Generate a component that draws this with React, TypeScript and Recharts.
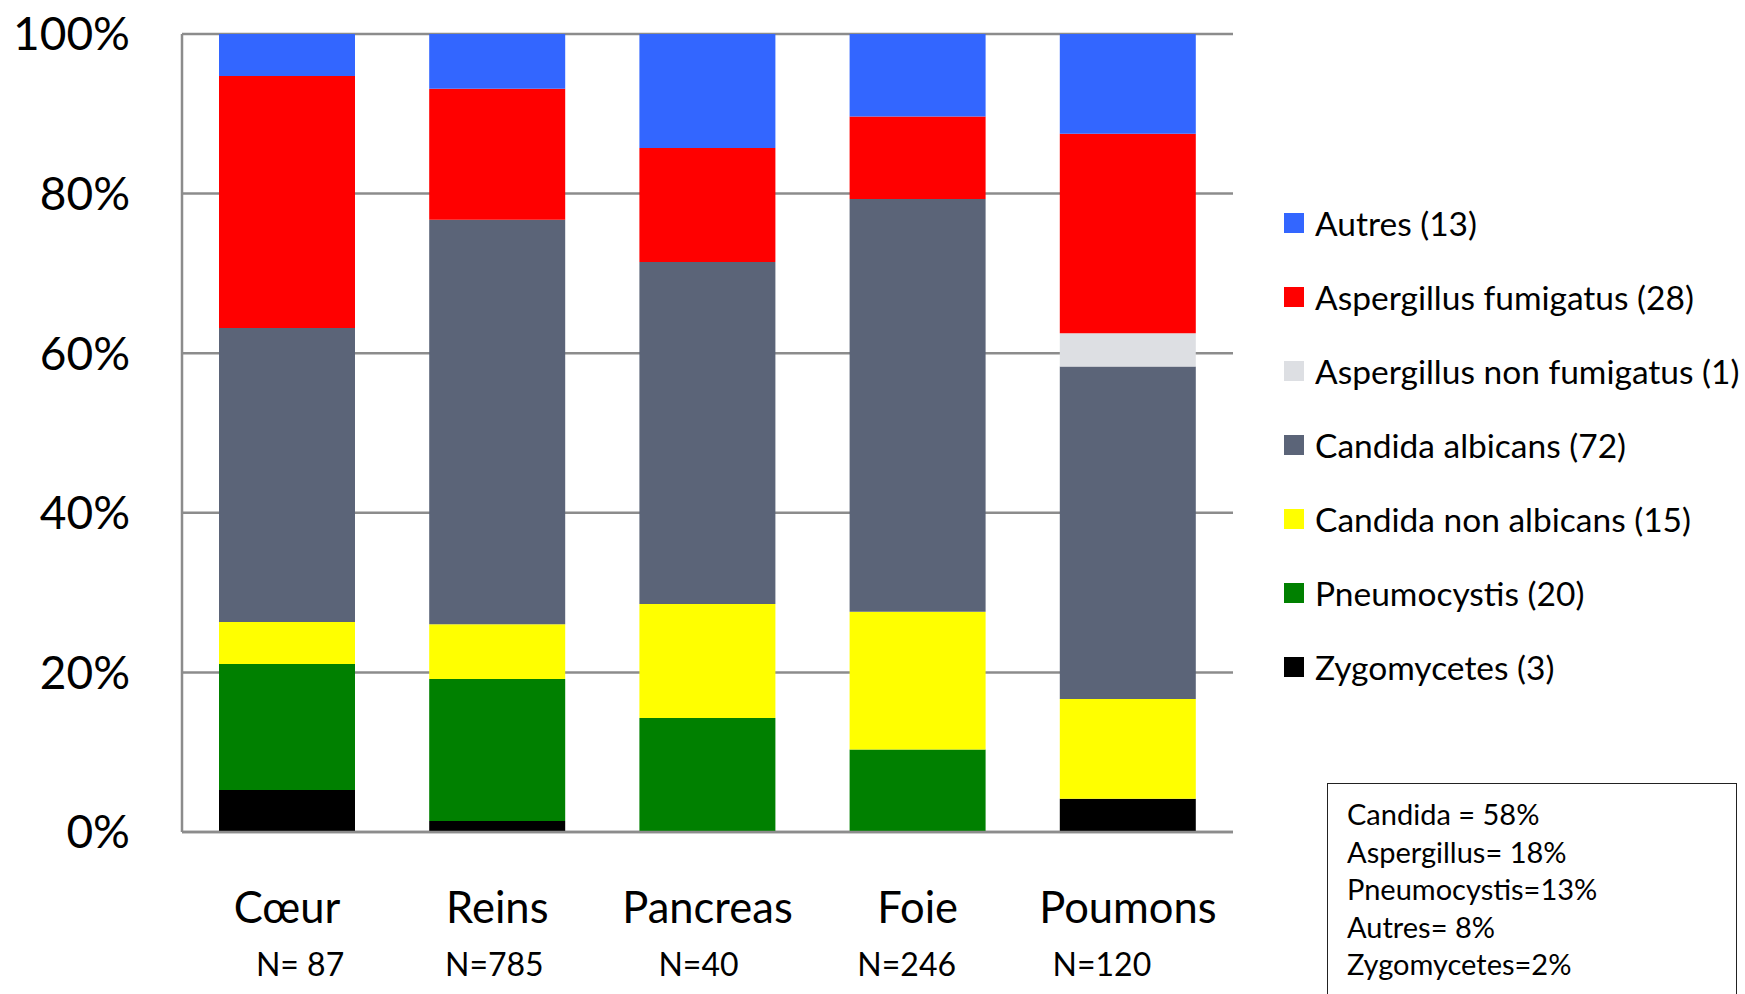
import React from 'react';
import { BarChart, Bar, XAxis, YAxis, CartesianGrid, Legend } from 'recharts';

const categories = ['Cœur', 'Reins', 'Pancreas', 'Foie', 'Poumons'];
const nLabels = ['N= 87', 'N=785', 'N=40', 'N=246', 'N=120'];

// case counts per organ, bottom of the stack first
const zygomycetes = [1, 1, 0, 0, 1];
const pneumocystis = [3, 13, 1, 3, 0];
const candidaNonAlbicans = [1, 5, 1, 5, 3];
const candidaAlbicans = [7, 37, 3, 15, 10];
const aspergillusNonFumigatus = [0, 0, 0, 0, 1];
const aspergillusFumigatus = [6, 12, 1, 3, 6];
const autres = [1, 5, 1, 3, 3];

const yTicks = [0, 0.2, 0.4, 0.6, 0.8, 1];

const summaryLines = [
  'Candida = 58%',
  'Aspergillus= 18%',
  'Pneumocystis=13%',
  'Autres= 8%',
  'Zygomycetes=2%',
];

const series = [
  { key: 'zygo', name: 'Zygomycetes (3)', values: zygomycetes, color: '#000000' },
  { key: 'pneumo', name: 'Pneumocystis (20)', values: pneumocystis, color: '#008000' },
  { key: 'cna', name: 'Candida non albicans (15)', values: candidaNonAlbicans, color: '#FFFF00' },
  { key: 'ca', name: 'Candida albicans (72)', values: candidaAlbicans, color: '#5B6478' },
  { key: 'anf', name: 'Aspergillus non fumigatus (1)', values: aspergillusNonFumigatus, color: '#DDDFE3' },
  { key: 'af', name: 'Aspergillus fumigatus (28)', values: aspergillusFumigatus, color: '#FF0000' },
  { key: 'autres', name: 'Autres (13)', values: autres, color: '#3366FF' },
];

const data = categories.map((c, i) => {
  const row: any = { name: c, n: nLabels[i] };
  series.forEach((s) => (row[s.key] = s.values[i]));
  return row;
});

// the N= labels sit a little off centre in the original
const nShift = [13, -3, -9, -11, -26];

const FONT = 'Lato, "Open Sans", sans-serif';
const GRID = '#8c8c8c';

const OrganTick = (props: any) => {
  const { x, y, payload, index } = props;
  return (
    <g>
      <text x={x} y={y + 91} textAnchor="middle" fontSize={43.5} fill="#000" fontFamily={FONT}>
        {payload.value}
      </text>
      <text x={x + nShift[index]} y={y + 144} textAnchor="middle" fontSize={32} fill="#000" fontFamily={FONT}>
        {nLabels[index]}
      </text>
    </g>
  );
};

// legend lists the series top of stack first
const renderLegend = () => {
  const items = [...series].reverse();
  return (
    <div style={{ fontFamily: FONT }}>
      {items.map((it) => (
        <div key={it.key} style={{ height: 74, display: 'flex', alignItems: 'center' }}>
          <span style={{ width: 20, height: 20, background: it.color, marginRight: 11, display: 'inline-block' }} />
          <span style={{ fontSize: 33.5, color: '#000', whiteSpace: 'nowrap' }}>{it.name}</span>
        </div>
      ))}
    </div>
  );
};

export default function App() {
  return (
    <div
      style={{
        position: 'fixed',
        left: 0,
        top: 0,
        width: 1745,
        height: 994,
        background: '#fff',
        overflow: 'hidden',
        fontFamily: FONT,
      }}
    >
      <BarChart
        width={1745}
        height={994}
        data={data}
        stackOffset="expand"
        margin={{ top: 34, right: 512, left: 0, bottom: 0 }}
      >
        <CartesianGrid vertical={false} stroke={GRID} strokeWidth={2.5} />
        <XAxis
          dataKey="name"
          height={162}
          tickLine={false}
          tickSize={0}
          tickMargin={0}
          axisLine={{ stroke: GRID, strokeWidth: 2.5 }}
          tick={<OrganTick />}
          interval={0}
        />
        <YAxis
          width={182}
          domain={[0, 1]}
          ticks={yTicks}
          tickFormatter={(v: number) => `${Math.round(v * 100)}%`}
          tickLine={false}
          tickSize={0}
          tickMargin={52}
          axisLine={{ stroke: GRID, strokeWidth: 2.5 }}
          tick={{ fontSize: 46, fill: '#000', fontFamily: FONT }}
        />
        <Legend
          layout="vertical"
          align="center"
          verticalAlign="middle"
          content={renderLegend}
          wrapperStyle={{ left: 1284, top: 186, width: 461 }}
        />
        {series.map((s) => (
          <Bar
            key={s.key}
            dataKey={s.key}
            name={s.name}
            stackId="a"
            fill={s.color}
            barSize={136}
            isAnimationActive={false}
          />
        ))}
      </BarChart>
      <div
        style={{
          position: 'absolute',
          left: 1327,
          top: 783,
          width: 410,
          height: 240,
          border: '1.5px solid #222',
          paddingLeft: 19,
          paddingTop: 11,
          boxSizing: 'border-box',
          fontSize: 29,
          lineHeight: '37.5px',
          color: '#000',
        }}
      >
        {summaryLines.map((l) => (
          <div key={l}>{l}</div>
        ))}
      </div>
    </div>
  );
}
